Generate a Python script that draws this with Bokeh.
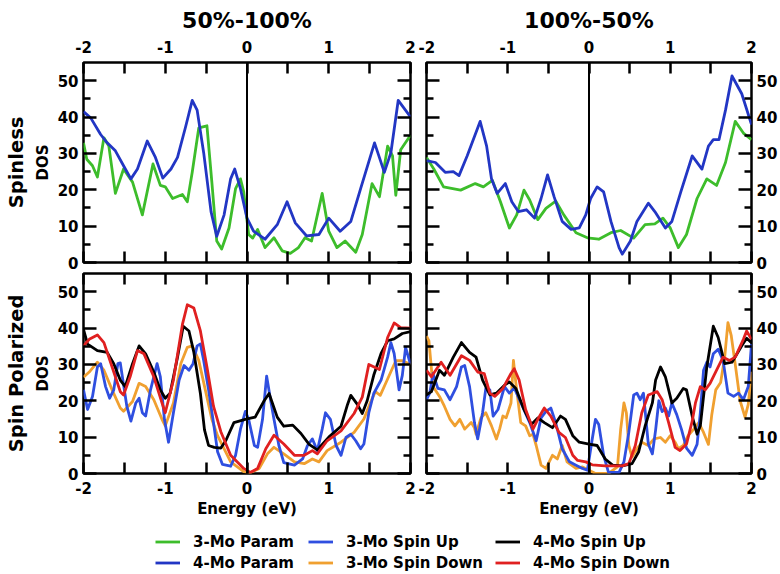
from bokeh.plotting import figure
from bokeh.models import (Range1d, LinearAxis, FixedTicker, Span, Legend, LegendItem,
                          CustomLabelingPolicy)
from bokeh.layouts import column, row
from bokeh.embed import file_html
from bokeh.resources import INLINE

# ---------------- data ----------------
col_titles = ["50%-100%", "100%-50%"]
row_titles = ["Spinless", "Spin Polarized"]
x_ticks = [-2, -1, 0, 1, 2]
x_tick_labels = ["-2", "-1", "0", "1", "2"]
x_minor = [-1.5, -0.5, 0.5, 1.5]
y_ticks = [0, 10, 20, 30, 40, 50]
y_tick_labels = ["0", "10", "20", "30", "40", "50"]
y_minor = [5, 15, 25, 35, 45]
x_label = "Energy (eV)"
y_label = "DOS"

# top-left (50%-100%, spinless)
tl_3mo_param_x = [-2, -1.96, -1.89, -1.83, -1.75, -1.69, -1.61, -1.51, -1.40, -1.28, -1.15, -1.06, -1.0, -0.91, -0.79,
                  -0.73, -0.67, -0.59, -0.49, -0.43, -0.37, -0.31, -0.22, -0.14, -0.08, -0.04, 0.02, 0.07, 0.13, 0.22,
                  0.33, 0.43, 0.53, 0.63, 0.71, 0.79, 0.92, 1.0, 1.10, 1.20, 1.33, 1.41, 1.53, 1.62, 1.72, 1.78, 1.82,
                  1.88, 2.0]
tl_3mo_param_y = [32.9, 28.4, 26.6, 23.5, 34.3, 32, 19, 25.7, 22.1, 13.1, 27.1, 21.2, 20.8, 17.6, 18.7,
                  16.7, 24.8, 37, 37.6, 22.1, 5.9, 3.7, 9.5, 20.3, 23, 19.4, 7.7, 6.7, 9.1, 4.1,
                  6.8, 3.2, 2.5, 4.1, 6.8, 5.9, 19, 8.6, 4.1, 5.9, 2.8, 7.7, 21.7, 18.1, 32, 29.3, 18.5,
                  31, 35]
tl_4mo_param_x = [-2, -1.91, -1.79, -1.71, -1.61, -1.51, -1.42, -1.34, -1.22, -1.12, -1.03, -0.93, -0.85, -0.75, -0.67,
                  -0.61, -0.53, -0.44, -0.37, -0.28, -0.20, -0.15, -0.08, 0, 0.08, 0.22, 0.37, 0.49, 0.59, 0.73, 0.88,
                  1.0, 1.14, 1.27, 1.39, 1.56, 1.68, 1.76, 1.85, 2.0]
tl_4mo_param_y = [41.5, 39.7, 35.2, 32.9, 30.7, 26.6, 23, 25.7, 33.4, 28.9, 23.2, 25.7, 28.9, 37.4, 44.6,
                  41.9, 30.2, 14, 7.2, 13.1, 23, 25.7, 20.3, 12.2, 8.6, 6.4, 10.4, 16.7, 10.9, 7.3, 7.7,
                  12.2, 8.6, 11.3, 20.3, 32.9, 24.8, 30.2, 44.6, 40]

# top-right (100%-50%, spinless)
tr_3mo_param_x = [-2, -1.91, -1.79, -1.58, -1.40, -1.30, -1.19, -1.09, -0.98, -0.89, -0.80, -0.73, -0.63, -0.53, -0.41,
                  -0.31, -0.16, -0.02, 0.12, 0.27, 0.39, 0.55, 0.69, 0.81, 0.91, 1.0, 1.10, 1.2, 1.33, 1.45, 1.57,
                  1.68, 1.80, 1.90, 2.0]
tr_3mo_param_y = [28.9, 25.7, 20.8, 19.9, 21.7, 20.8, 22.6, 16.7, 9.5, 13.1, 19.9, 17.2, 11.8, 14.9, 16.9,
                  13.1, 8.2, 6.8, 6.4, 8.2, 8.8, 6.7, 10.4, 10.6, 12.2, 9.5, 4.1, 7.7, 17.6, 23, 21.2,
                  27.5, 38.8, 35.6, 33.8]
tr_4mo_param_x = [-2, -1.89, -1.77, -1.67, -1.60, -1.50, -1.34, -1.26, -1.20, -1.13, -1.03, -0.95, -0.87, -0.77, -0.67,
                  -0.59, -0.51, -0.43, -0.33, -0.22, -0.12, -0.04, 0.02, 0.10, 0.18, 0.27, 0.37, 0.41, 0.51, 0.59,
                  0.73, 0.81, 0.94, 1.02, 1.13, 1.27, 1.39, 1.47, 1.53, 1.60, 1.68, 1.76, 1.88, 2.0]
tr_4mo_param_y = [28, 27.5, 24.8, 25, 23.9, 29.3, 38.8, 32, 23, 19, 21.7, 16.7, 14, 14.5, 12.2,
                  17.6, 24.1, 18.1, 11.3, 9.1, 9.5, 13.1, 17.6, 20.8, 19.4, 11.3, 4.1, 2.3, 5.9, 11.3,
                  16.3, 14, 9.5, 11.3, 19.4, 29.3, 25.7, 32, 33.8, 33.8, 41.9, 51.3, 46.4, 37.9]

# bottom-left (50%-100%, spin polarized)
bl_3mo_up_x = [-2.0, -1.95, -1.89, -1.83, -1.79, -1.73, -1.68, -1.63, -1.58, -1.55, -1.47, -1.42, -1.36, -1.32, -1.28,
               -1.24, -1.18, -1.10, -1.06, -1.01, -0.96, -0.90, -0.83, -0.77, -0.71, -0.66, -0.61, -0.57, -0.53, -0.47,
               -0.41, -0.36, -0.30, -0.2, -0.14, -0.08, -0.02, 0.02, 0.09, 0.13, 0.19, 0.24, 0.29, 0.33, 0.39, 0.45,
               0.58, 0.68, 0.74, 0.80, 0.86, 0.92, 0.96, 1.02, 1.09, 1.15, 1.21, 1.27, 1.33, 1.39, 1.43, 1.49, 1.55,
               1.64, 1.72, 1.76, 1.80, 1.86, 1.90, 1.94, 2.0]
bl_3mo_up_y = [23, 17.6, 21.2, 29.3, 30.2, 23.9, 20.7, 23, 30.2, 30.4, 18.5, 14.4, 19.4, 20.7, 16.7,
               15.8, 23, 30.2, 26.6, 14.9, 8.6, 16.7, 25.7, 29.7, 28.4, 30.2, 35.1, 35.6, 31.1, 23,
               14, 6, 2.5, 2, 5, 12.2, 17.1, 14.9, 7.7, 7.2, 14.9, 26.8, 20, 14.9, 7.7, 3,
               2.3, 4, 7.7, 9.5, 6.3, 12.2, 16.7, 14.9, 7.7, 5, 9.9, 10.8, 9, 6.8, 8.1, 16.7, 22,
               25.7, 32, 36, 33, 23, 27, 34.7, 30]
bl_3mo_down_x = [-2.0, -1.93, -1.83, -1.75, -1.65, -1.55, -1.51, -1.40, -1.32, -1.24, -1.14, -1.04, -1.0, -0.90, -0.81,
                 -0.73, -0.67, -0.59, -0.51, -0.43, -0.36, -0.2, -0.04, 0.04, 0.15, 0.25, 0.33, 0.45, 0.58, 0.70,
                 0.80, 0.88, 0.98, 1.15, 1.31, 1.43, 1.50, 1.57, 1.63, 1.72, 1.82, 1.90, 2.0]
bl_3mo_down_y = [26.5, 27.9, 30.6, 28.4, 23, 18, 17.1, 19.8, 24.8, 23.9, 20.3, 14.9, 13.1, 19.4, 30.2,
                 34.7, 35.1, 31.1, 23, 14.9, 10.4, 3.2, 0.5, 0.2, 1.4, 5.4, 7.2, 5.4, 3.2, 2.7,
                 4, 3.2, 6.3, 8.6, 11.3, 15, 19, 22.5, 21.5, 26, 31, 31, 30]
bl_4mo_up_x = [-2.0, -1.95, -1.83, -1.71, -1.63, -1.55, -1.49, -1.40, -1.32, -1.24, -1.14, -1.06, -1.0, -0.94, -0.85,
               -0.78, -0.71, -0.65, -0.57, -0.52, -0.47, -0.40, -0.32, -0.26, -0.16, 0.0, 0.1, 0.21, 0.27, 0.37,
               0.45, 0.56, 0.66, 0.76, 0.86, 0.92, 1.0, 1.15, 1.23, 1.27, 1.35, 1.41, 1.47, 1.55, 1.64, 1.72,
               1.80, 1.90, 2.0]
bl_4mo_up_y = [39.6, 35.6, 33.8, 33.3, 30.2, 25.7, 23.9, 30.2, 35.1, 32.9, 27.9, 23, 20.7, 22.1, 32,
               40.5, 39.2, 33.3, 22, 12, 7.7, 7.2, 7, 9, 14, 15, 15.5, 20, 22, 15.5,
               13, 13.3, 11, 8, 6.5, 8, 10, 13, 19, 21.5, 19, 16.5, 20, 27, 33, 36.5,
               37, 38.5, 39]
bl_4mo_down_x = [-2.0, -1.93, -1.83, -1.75, -1.65, -1.55, -1.51, -1.43, -1.34, -1.26, -1.14, -1.04, -1.0, -0.90, -0.79,
                 -0.73, -0.65, -0.57, -0.49, -0.41, -0.32, -0.2, -0.04, 0.04, 0.13, 0.23, 0.33, 0.45, 0.58, 0.70,
                 0.80, 0.86, 0.98, 1.15, 1.31, 1.41, 1.49, 1.62, 1.72, 1.80, 1.88, 2.0]
bl_4mo_down_y = [35.1, 36.9, 38.1, 36, 29.3, 22.5, 21.6, 26.6, 33.8, 32.9, 26.6, 19.4, 16.7, 25.7, 41,
                 46.4, 45.5, 39.2, 29.3, 18.5, 11.5, 5, 1.4, 0.3, 1.4, 6.8, 10.5, 8.1, 5, 5,
                 6.3, 5.4, 9, 11.7, 16.5, 21, 30, 28.6, 37.4, 41.4, 40.1, 40]

# bottom-right (100%-50%, spin polarized)
br_3mo_up_x = [-2.0, -1.96, -1.92, -1.86, -1.78, -1.71, -1.63, -1.57, -1.53, -1.47, -1.41, -1.37, -1.31, -1.27, -1.22,
               -1.18, -1.12, -1.04, -0.98, -0.92, -0.82, -0.73, -0.65, -0.59, -0.53, -0.47, -0.41, -0.33, -0.24,
               -0.16, -0.08, -0.02, 0.04, 0.08, 0.12, 0.18, 0.24, 0.37, 0.43, 0.49, 0.55, 0.59, 0.63, 0.67, 0.73,
               0.78, 0.82, 0.86, 0.90, 0.94, 0.98, 1.02, 1.08, 1.14, 1.20, 1.27, 1.33, 1.37, 1.41, 1.45, 1.49,
               1.53, 1.59, 1.65, 1.71, 1.78, 1.84, 1.90, 1.96, 2.0]
br_3mo_up_y = [20.3, 22.1, 27.5, 23.4, 23, 20.3, 23.9, 29.3, 29.7, 23.9, 14, 9.5, 16.7, 23.4, 23,
               15.8, 17.6, 23.9, 22.1, 23.5, 18.5, 14, 9, 15.3, 17.1, 18, 14, 6.8, 3.2,
               2.3, 1.4, 0.9, 9.5, 14.9, 13.5, 5, 0.3, 0.3, 3.2, 11.3, 21.6, 22.1, 20.3, 22.1, 8.1,
               5.4, 12, 20, 17, 18, 15.8, 19.4, 16.2, 12, 7, 5, 8, 16.7, 28.4, 30.6, 29.3,
               32.9, 34.2, 31.1, 22.1, 21.2, 22.1, 20.3, 23.9, 35.6]
br_3mo_down_x = [-2.0, -1.97, -1.92, -1.84, -1.78, -1.71, -1.65, -1.59, -1.53, -1.45, -1.41, -1.39, -1.33, -1.27,
                 -1.20, -1.14, -1.10, -1.06, -1.02, -0.96, -0.93, -0.90, -0.84, -0.78, -0.73, -0.69, -0.65, -0.59,
                 -0.53, -0.45, -0.39, -0.33, -0.27, -0.16, -0.08, 0.0, 0.08, 0.24, 0.35, 0.39, 0.43, 0.46, 0.49,
                 0.53, 0.59, 0.65, 0.73, 0.80, 0.88, 0.94, 1.0, 1.06, 1.10, 1.16, 1.22, 1.29, 1.35, 1.41, 1.47,
                 1.51, 1.56, 1.62, 1.67, 1.71, 1.75, 1.80, 1.86, 1.92, 1.96, 2.0]
br_3mo_down_y = [37.8, 36.5, 23.9, 21.2, 18.5, 14.9, 13.1, 14.9, 12.2, 14, 12.6, 10.8, 15.3, 16.7,
                 13.1, 9.5, 12.2, 15.8, 15.3, 19.4, 31.1, 24.8, 14, 13.1, 10.4, 10.8, 7.7, 2.3,
                 1.4, 5, 4, 7.7, 3.2, 1.4, 1.8, 0.9, 0, 0, 1.8, 12.2, 19.4, 16.7, 7.7,
                 4.5, 6.8, 8.6, 7.7, 9.5, 9.9, 8.6, 10.4, 8.6, 6.8, 7.7, 10.4, 12.2, 14, 11.3, 8,
                 16, 23, 25, 32, 41.5, 38, 30, 20, 15.5, 19, 28]
br_4mo_up_x = [-2.0, -1.94, -1.84, -1.78, -1.67, -1.57, -1.47, -1.39, -1.31, -1.22, -1.14, -1.04, -0.98, -0.90, -0.80,
               -0.71, -0.63, -0.55, -0.45, -0.35, -0.29, -0.20, -0.12, 0.0, 0.10, 0.20, 0.29, 0.41, 0.53, 0.61,
               0.69, 0.78, 0.82, 0.88, 0.94, 1.02, 1.08, 1.16, 1.2, 1.27, 1.33, 1.37, 1.45, 1.53, 1.59, 1.67,
               1.76, 1.88, 1.94, 2.0]
br_4mo_up_y = [21.6, 22.5, 28.4, 27, 32, 36, 33.3, 32, 25.7, 21.6, 22.1, 24.3, 25.2, 23.4, 17.6,
               13.5, 15.3, 14, 12.6, 15.8, 14.9, 10.4, 8.6, 8.1, 7.7, 4, 2.3, 2.1, 2.7, 5.9,
               13, 19.4, 25.7, 29.3, 26.6, 19.4, 20.7, 23.4, 23, 15.8, 10.8, 13.1, 29.3, 40.5, 37.4, 30.2,
               30.6, 35.1, 37.2, 36]
br_4mo_down_x = [-2.0, -1.94, -1.82, -1.71, -1.57, -1.47, -1.37, -1.29, -1.22, -1.16, -1.06, -0.96, -0.92, -0.86,
                 -0.78, -0.69, -0.63, -0.55, -0.47, -0.37, -0.29, -0.2, -0.14, -0.04, 0.04, 0.2, 0.41, 0.49, 0.57,
                 0.65, 0.73, 0.84, 0.90, 0.98, 1.06, 1.12, 1.2, 1.27, 1.31, 1.37, 1.43, 1.49, 1.59, 1.65, 1.73,
                 1.80, 1.90, 1.94, 2.0]
br_4mo_down_y = [28.4, 26.6, 30.6, 27, 32.4, 31.1, 27.9, 27.5, 22.1, 21.2, 23.4, 27.5, 28.8, 25.7,
                 17.6, 12.2, 14.9, 18, 15.8, 11.3, 9.9, 5, 3.6, 3.2, 2.4, 2.1, 2.1, 2.7, 7.7,
                 16.7, 21.6, 22.5, 20.3, 14, 7.2, 6.3, 8.1, 14.4, 19.4, 23.9, 23, 24.8, 29.3, 32, 31.1,
                 32, 36.9, 39.2, 36.9]

series_names = ["3-Mo Param", "4-Mo Param", "3-Mo Spin Up", "3-Mo Spin Down", "4-Mo Spin Up", "4-Mo Spin Down"]
series_colors = ["#3dbd2b", "#2236c4", "#2f4fe0", "#f0a030", "#000000", "#e02020"]

# ---------------- styling helpers ----------------
FONT = "DejaVu Sans"
TICK_FS = "15px"
LW = 2.8

NO_LABELS = CustomLabelingPolicy(code="""
const all = [...indices];
for (const i of all) { indices.unset(i); }
return indices;
""")


def base_fig(width, height, mbl, mbr, mbt, mbb):
    p = figure(width=width, height=height, x_range=Range1d(-2, 2), y_range=Range1d(0, 55),
               x_axis_location=None, y_axis_location=None, toolbar_location=None,
               output_backend="svg", min_border_left=mbl, min_border_right=mbr,
               min_border_top=mbt, min_border_bottom=mbb)
    p.xgrid.visible = False
    p.ygrid.visible = False
    p.outline_line_color = "black"
    p.outline_line_width = 2.5
    p.background_fill_color = "white"
    p.border_fill_color = "white"
    return p


def style_common(ax):
    ax.axis_line_color = None
    ax.major_tick_line_color = "black"
    ax.minor_tick_line_color = "black"
    ax.major_tick_line_width = 2.5
    ax.minor_tick_line_width = 2.5
    ax.major_tick_out = 0
    ax.minor_tick_out = 0
    ax.major_label_text_font = FONT
    ax.major_label_text_font_style = "bold"
    ax.major_label_text_color = "black"


def hide_labels(ax):
    ax.major_label_text_font_size = "0px"
    ax.major_label_standoff = 0
    ax.major_label_policy = NO_LABELS


def set_axis_label(ax, text, size, standoff):
    ax.axis_label = text
    ax.axis_label_text_font = FONT
    ax.axis_label_text_font_style = "bold"
    ax.axis_label_text_font_size = size
    ax.axis_label_text_color = "black"
    ax.axis_label_standoff = standoff


def x_axis(labels, title=None, standoff=8):
    ax = LinearAxis(ticker=FixedTicker(ticks=x_ticks, minor_ticks=x_minor),
                    major_label_overrides=dict(zip(x_ticks, x_tick_labels)))
    style_common(ax)
    ax.major_tick_in = 11
    ax.minor_tick_in = 11
    if labels:
        ax.major_label_text_font_size = TICK_FS
        ax.major_label_standoff = standoff
    else:
        hide_labels(ax)
    if title:
        set_axis_label(ax, title, "15px", 3)
    return ax


def y_axis(labels, title=None, standoff=5):
    ax = LinearAxis(ticker=FixedTicker(ticks=y_ticks, minor_ticks=y_minor),
                    major_label_overrides=dict(zip(y_ticks, y_tick_labels)))
    style_common(ax)
    ax.major_tick_in = 13
    ax.minor_tick_in = 7
    if labels:
        ax.major_label_text_font_size = TICK_FS
        ax.major_label_standoff = standoff
    else:
        hide_labels(ax)
    if title:
        set_axis_label(ax, title, "15px", 3)
    return ax


def row_label_axis(text):
    ax = LinearAxis(ticker=FixedTicker(ticks=[]))
    ax.axis_line_color = None
    ax.major_tick_in = 0
    ax.major_tick_out = 0
    ax.minor_tick_in = 0
    ax.minor_tick_out = 0
    hide_labels(ax)
    set_axis_label(ax, text, "19.5px", 3)
    return ax


def add_lines(p, xs, ys, colors):
    for x, y, c in zip(xs, ys, colors):
        p.line(x, y, line_color=c, line_width=LW, line_join="round")
    p.add_layout(Span(location=0, dimension="height", line_color="black", line_width=2))


def set_title(p, text):
    p.title.text = text
    p.title.align = "center"
    p.title.text_font = FONT
    p.title.text_font_style = "bold"
    p.title.text_font_size = "22px"
    p.title.text_color = "black"
    p.title.standoff = 10


W_L, W_R = 418, 362
H_T, H_B, H_LEG = 271, 249, 53

# top-left
tl = base_fig(W_L, H_T, 83, 8, 59, 9)
set_title(tl, col_titles[0])
tl.add_layout(x_axis(True, standoff=10), "above")
tl.add_layout(x_axis(False), "below")
tl.add_layout(y_axis(True, y_label), "left")
tl.add_layout(row_label_axis(row_titles[0]), "left")
tl.add_layout(y_axis(False), "right")
add_lines(tl, [tl_3mo_param_x, tl_4mo_param_x], [tl_3mo_param_y, tl_4mo_param_y], series_colors[0:2])

# top-right
tr = base_fig(W_R, H_T, 8, 27, 59, 9)
set_title(tr, col_titles[1])
tr.add_layout(x_axis(True, standoff=10), "above")
tr.add_layout(x_axis(False), "below")
tr.add_layout(y_axis(False), "left")
tr.add_layout(y_axis(True, standoff=5), "right")
add_lines(tr, [tr_3mo_param_x, tr_4mo_param_x], [tr_3mo_param_y, tr_4mo_param_y], series_colors[0:2])

# bottom-left
spin_colors = [series_colors[3], series_colors[2], series_colors[4], series_colors[5]]
bl = base_fig(W_L, H_B, 83, 8, 2, 45)
bl.add_layout(x_axis(False), "above")
bl.add_layout(x_axis(True, x_label), "below")
bl.add_layout(y_axis(True, y_label), "left")
bl.add_layout(row_label_axis(row_titles[1]), "left")
bl.add_layout(y_axis(False), "right")
add_lines(bl, [bl_3mo_down_x, bl_3mo_up_x, bl_4mo_up_x, bl_4mo_down_x],
          [bl_3mo_down_y, bl_3mo_up_y, bl_4mo_up_y, bl_4mo_down_y], spin_colors)

# bottom-right
br = base_fig(W_R, H_B, 8, 27, 2, 45)
br.add_layout(x_axis(False), "above")
br.add_layout(x_axis(True, x_label), "below")
br.add_layout(y_axis(False), "left")
br.add_layout(y_axis(True, standoff=5), "right")
add_lines(br, [br_3mo_down_x, br_3mo_up_x, br_4mo_up_x, br_4mo_down_x],
          [br_3mo_down_y, br_3mo_up_y, br_4mo_up_y, br_4mo_down_y], spin_colors)

# legend strip
leg = figure(width=W_L + W_R, height=H_LEG, x_range=Range1d(0, 1), y_range=Range1d(0, 1),
             x_axis_location=None, y_axis_location=None, toolbar_location=None,
             output_backend="svg", min_border=0)
leg.xgrid.visible = False
leg.ygrid.visible = False
leg.outline_line_color = None
nan = float("nan")
dummy = [leg.line([nan, nan], [nan, nan], line_color=c, line_width=LW) for c in series_colors]
col_x = [155, 308, 495]
for i, cx in enumerate(col_x):
    items = [LegendItem(label=series_names[2 * i + k], renderers=[dummy[2 * i + k]]) for k in range(2)]
    lg = Legend(items=items, location=(cx, 0), orientation="vertical",
                glyph_width=25, glyph_height=21, label_height=21, label_standoff=13,
                padding=0, margin=0, spacing=0, border_line_color=None, background_fill_alpha=0,
                label_text_font=FONT, label_text_font_style="bold", label_text_font_size="15px",
                label_text_color="black")
    leg.add_layout(lg)

layout = column(row(tl, tr), row(bl, br), leg)
open("out.html", "w").write(file_html(layout, INLINE))
